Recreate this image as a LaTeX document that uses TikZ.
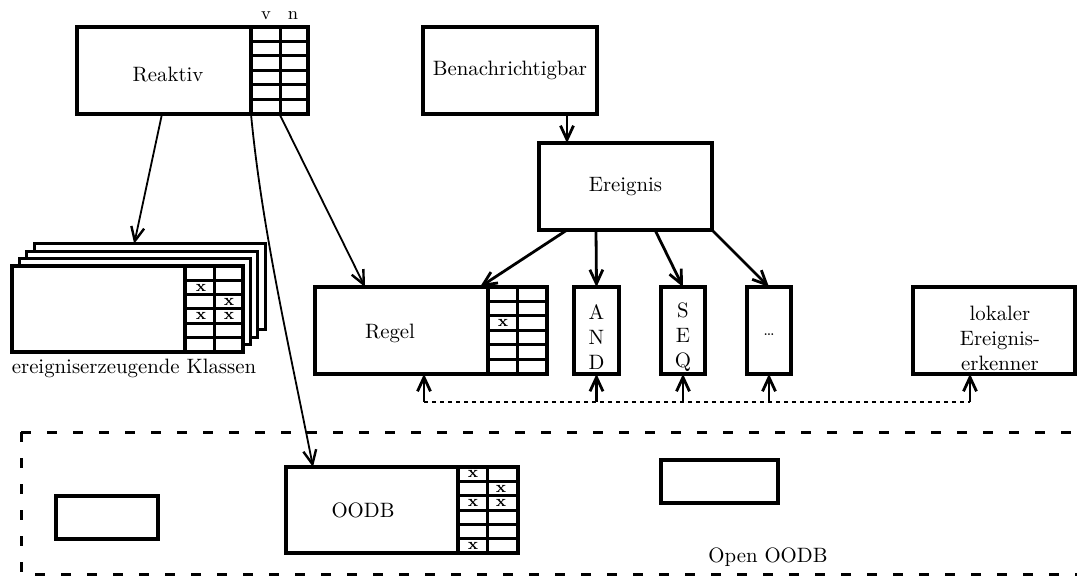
\documentclass[tikz,border=0pt]{standalone}
\usetikzlibrary{arrows.meta}
\newcommand\mytabgrid[5]{%
  \draw[gridline] (#2,#4) -- (#2,#5);
  \foreach \k in {1,...,5}{\draw[gridline] (#1,{#4+\k*(#5-#4)/6}) -- (#3,{#4+\k*(#5-#4)/6});}%
}
\begin{document}
\begin{tikzpicture}[x=0.5pt,y=-0.5pt,
  box/.style={draw,line width=1.6pt,inner sep=0pt,outer sep=0pt,anchor=north west,fill=white,font=\fontsize{10.4}{12.5}\selectfont},
  gridline/.style={line width=1.5pt},
  txt/.style={inner sep=0pt,font=\fontsize{10.4}{12.5}\selectfont},
  xm/.style={inner sep=0pt,font=\footnotesize\bfseries},
  thinarrow/.style={line width=0.9pt,-{Straight Barb[length=7pt,width=6.5pt,line width=1.2pt]}},
  thickarrow/.style={line width=1.4pt,-{Straight Barb[length=7pt,width=6.5pt,line width=1.4pt]}},
  dashedline/.style={line width=1.5pt,dash pattern=on 5pt off 8pt},
  dottedline/.style={line width=1.3pt,dash pattern=on 1.8pt off 2.2pt},
]
\useasboundingbox (0,0) rectangle (1077,577);

% Reaktiv
\node[box,minimum width=87pt,minimum height=43.5pt] (reaktiv) at (77,27) {};
\node[box,minimum width=28.5pt,minimum height=43.5pt] (reaktivtab) at (251,27) {};
\mytabgrid{251}{280}{308}{27}{114}
\node[txt] (reaktivlbl) at (168,75) {Reaktiv};
\node[txt,font=\small] (vlbl) at (266,16) {v};
\node[txt,font=\small] (nlbl) at (293,16) {n};

% Benachrichtigbar, Ereignis
\node[box,minimum width=87pt,minimum height=43.5pt] (benach) at (423,27) {Benachrichtigbar};
\node[box,minimum width=86.5pt,minimum height=43.5pt] (ereignis) at (539,143) {Ereignis};

% Regel
\node[box,minimum width=86.5pt,minimum height=43.5pt] (regel) at (315,287) {};
\node[box,minimum width=29.5pt,minimum height=43.5pt] (regeltab) at (488,287) {};
\mytabgrid{488}{517}{547}{287}{374}
\node[txt] (regellbl) at (390,333) {Regel};
\node[xm] (mr1) at (503,323) {x};

% AND, SEQ, dots
\node[box,minimum width=22.5pt,minimum height=43.5pt] (and) at (574,287) {};
\node[txt,align=center] (andlbl) at (596.5,337) {A\\N\\D};
\node[box,minimum width=22pt,minimum height=43.5pt] (seq) at (661,287) {};
\node[txt,align=center] (seqlbl) at (683,337) {S\\E\\Q};
\node[box,minimum width=22pt,minimum height=43.5pt] (dots) at (747,287) {};
\node[txt,font=\footnotesize] (dotslbl) at (769,335) {\dots};

% lokaler Ereigniserkenner
\node[box,minimum width=81pt,minimum height=43.5pt] (lok) at (913,287) {};
\node[txt,align=center] (loklbl) at (1000,338) {lokaler\\Ereignis-\\erkenner};

% ereigniserzeugende Klassen (stack)
\foreach \k in {3,2,1}{
  \node[box,minimum width=115.5pt,minimum height=43pt] (stack\k) at ({12+7.4*\k},{266-7.4*\k}) {};
}
\node[box,minimum width=86.5pt,minimum height=43pt] (stack) at (12,266) {};
\node[box,minimum width=29pt,minimum height=43pt] (stacktab) at (185,266) {};
\mytabgrid{185}{214}{243}{266}{352}
\node[xm] (ms1) at (201,288) {x};
\node[xm] (ms2) at (229,302) {x};
\node[xm] (ms3) at (201,316) {x};
\node[xm] (ms4) at (229,316) {x};
\node[txt] (stacklbl) at (134,368) {ereigniserzeugende Klassen};

% Open OODB
\draw[dashedline] (21,432) -- (1100,432);
\draw[dashedline] (21,432) -- (21,574) -- (1100,574);
\node[box,minimum width=51pt,minimum height=21.5pt] (smallleft) at (56,496) {};
\node[box,minimum width=58.5pt,minimum height=21.5pt] (smallright) at (661,460) {};
\node[box,minimum width=86pt,minimum height=43pt] (oodb) at (286,467) {};
\node[box,minimum width=30pt,minimum height=43pt] (oodbtab) at (458,467) {};
\mytabgrid{458}{487}{518}{467}{553}
\node[txt] (oodblbl) at (363,510) {OODB};
\node[xm] (mo1) at (473,474) {x};
\node[xm] (mo2) at (501,489) {x};
\node[xm] (mo3) at (473,503) {x};
\node[xm] (mo4) at (501,503) {x};
\node[xm] (mo5) at (473,546) {x};
\node[txt] (openlbl) at (768,557) {Open OODB};

% connectors from Reaktiv
\draw[thinarrow] ([xshift=-1pt]reaktiv.south) -- ([xshift=50pt]stack3.north west);
\draw[thinarrow] (reaktivtab.south west) .. controls (262,230) and (290,350) .. ([xshift=13.5pt]oodb.north west);
\draw[thinarrow] (reaktivtab.south) -- ([xshift=25pt]regel.north west);

% Benachrichtigbar -> Ereignis
\draw[thickarrow] ([xshift=72pt]benach.south west) -- ([xshift=14pt]ereignis.north west);

% Ereignis -> ...
\draw[thickarrow] ([xshift=14pt]ereignis.south west) -- ([xshift=-4pt]regel.north east);
\draw[thickarrow] ([xshift=28.5pt]ereignis.south west) -- (and.north);
\draw[thickarrow] ([xshift=58pt]ereignis.south west) -- (seq.north);
\draw[thickarrow] (ereignis.south east) -- (dots.north);

% dotted line with arrows up
\coordinate (d1) at (424,402);
\coordinate (d2) at (970,402);
\draw[dottedline] (d1) -- (d2);
\draw[thickarrow] (d1) -- ([xshift=54.5pt]regel.south west);
\draw[thickarrow] (and.south |- d1) -- (and.south);
\draw[thickarrow] (seq.south |- d1) -- (seq.south);
\draw[thickarrow] (dots.south |- d1) -- (dots.south);
\draw[thickarrow] (d2) -- ([xshift=28.5pt]lok.south west);
\end{tikzpicture}
\end{document}
